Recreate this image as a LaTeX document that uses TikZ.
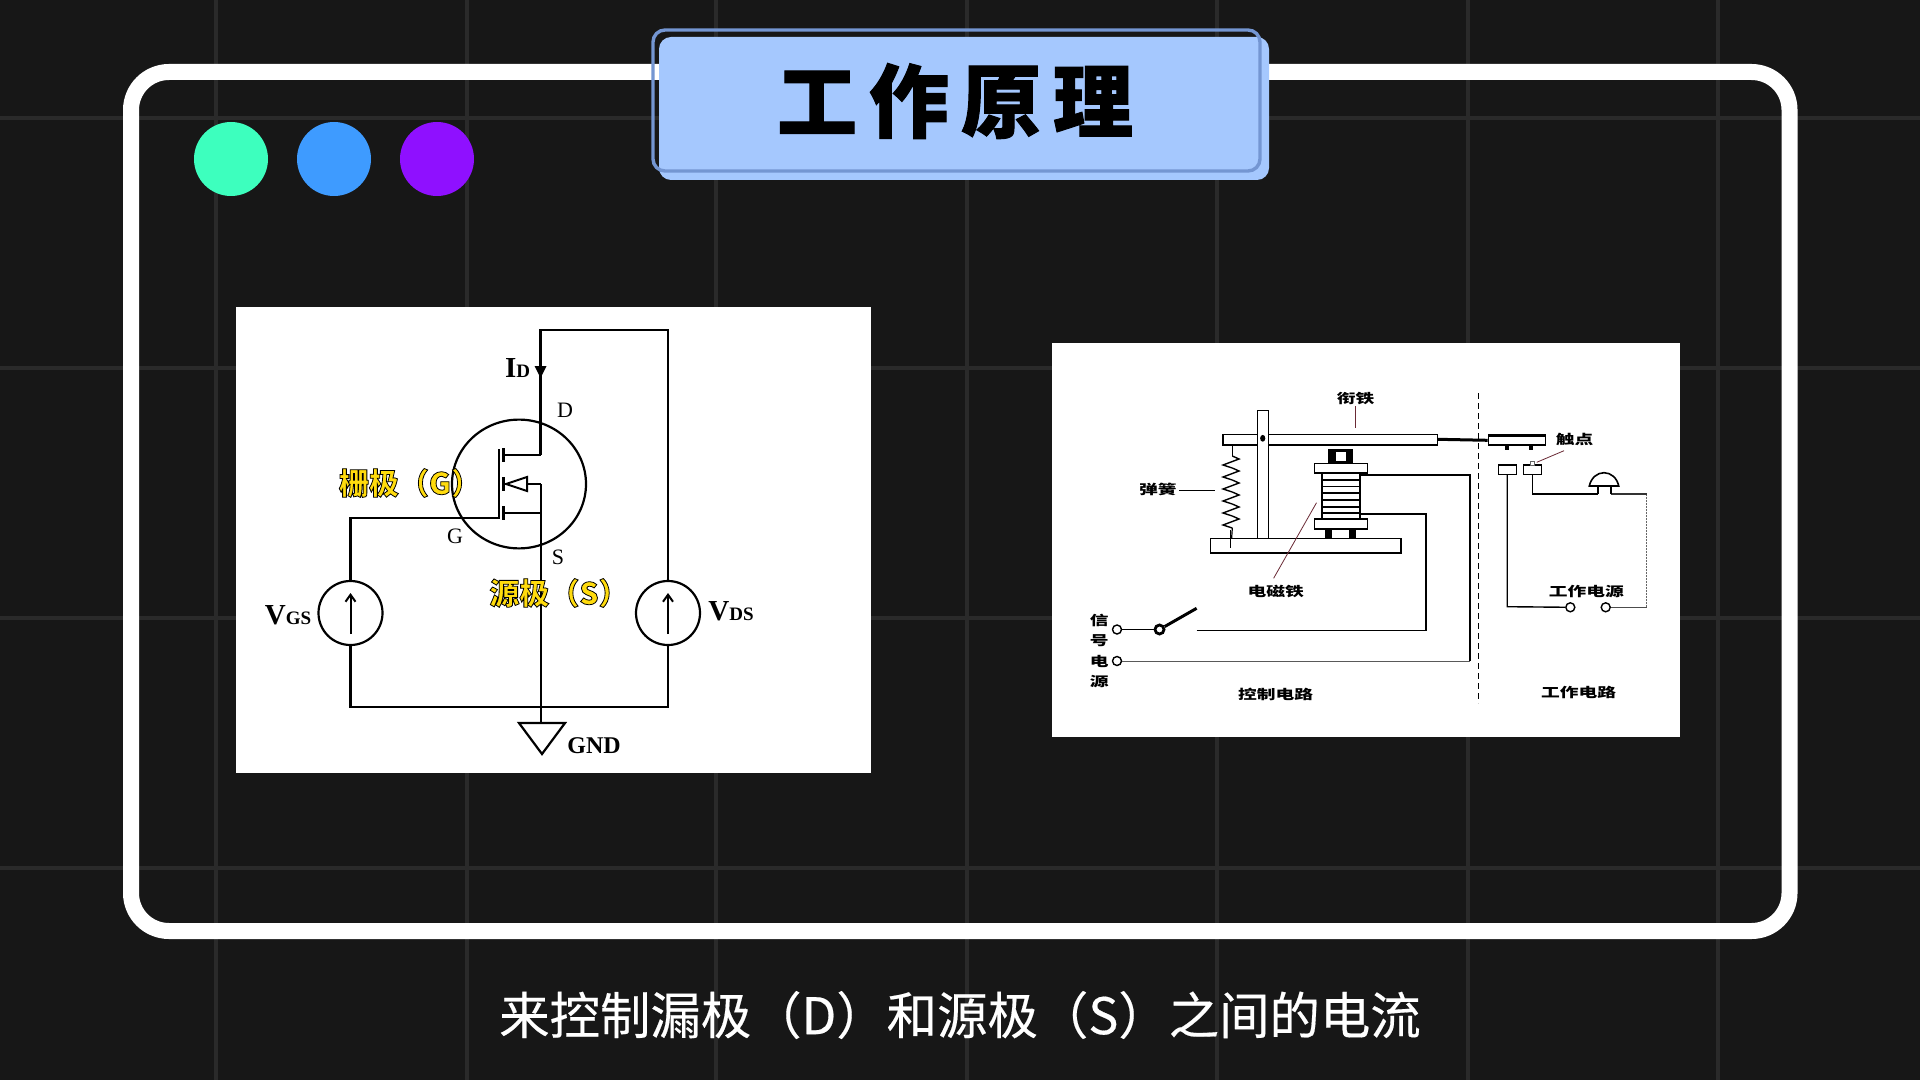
\documentclass[tikz,border=0pt]{standalone}
\usepackage{fontspec}
\usepackage{graphicx}
\usetikzlibrary{arrows.meta}
\setmainfont{Liberation Serif}
\newfontfamily\cjk[BoldFeatures={FakeBold=1.2}]{Noto Sans CJK SC}
\newfontfamily\cjkplain{Noto Sans CJK SC}
\newfontfamily\cjkmed[FakeBold=0.35]{Noto Sans CJK SC}
\newfontfamily\cjkblack{Noto Sans CJK SC Black}
\newcommand{\fsz}[1]{\fontsize{#1}{#1}\selectfont}
\newcommand{\glowtxt}[1]{\special{pdf:code 2 Tr 0 0 0 RG 0.4 w 1 .86 .05 rg}#1\special{pdf:code 0 Tr}}
\newcommand{\wide}[1]{\scalebox{1.42}[1]{#1}}
\definecolor{bgdark}{HTML}{171717}
\definecolor{gridgray}{HTML}{2A2A2A}
\definecolor{titlefill}{HTML}{A5C8FE}
\definecolor{titleline}{HTML}{7496D2}
\definecolor{leadred}{HTML}{6A2A35}
\tikzset{
  wire/.style={draw=black,line width=1.3pt},
  thinwire/.style={draw=black,line width=.7pt},
  relaybox/.style={draw=black,fill=white,line width=.6pt},
  leadline/.style={draw=leadred,line width=.4pt},
  source/.style={circle,draw=black,fill=white,line width=1.1pt,minimum size=32pt,inner sep=0pt},
  term/.style={circle,draw=black,fill=white,line width=.7pt,minimum size=4.5pt,inner sep=0pt},
  boldlabel/.style={font=\fsz{14.5}\bfseries,inner sep=0pt},
  pinlabel/.style={font=\fsz{11},inner sep=0pt},
  yellowlabel/.style={font=\fsz{15}\cjkblack,inner sep=0pt},
  relaylabel/.style={font=\fsz{6.6}\cjkplain\bfseries,inner sep=0pt}
}
\begin{document}
\begin{tikzpicture}[x=.5pt,y=-.5pt]
  \useasboundingbox (0,0) rectangle (1920,1080);
  \fill[bgdark] (0,0) rectangle (1920,1080);
  \foreach \x in {216,467,716,967,1217,1468,1718}
    \draw[gridgray,line width=2pt] (\x,0)--(\x,1080);
  \foreach \y in {118,368,618,868}
    \draw[gridgray,line width=2pt] (0,\y)--(1920,\y);

  % frame and title
  \draw[white,line width=8pt,rounded corners=19pt] (131,72) rectangle (1789.5,931);
  \fill[titlefill,rounded corners=6pt] (659,37) rectangle (1269,180);
  \draw[titleline,line width=1.7pt,rounded corners=6pt] (653,30) rectangle (1260,171);
  \node[font=\fsz{40}\cjk\bfseries,inner sep=0pt] (title) at (955,101)
    {工\hspace{6pt}作\hspace{6pt}原\hspace{6pt}理};

  \fill[fill={rgb,255:red,61;green,255;blue,190}] (231,159) circle (18.5pt);
  \fill[fill={rgb,255:red,62;green,155;blue,255}] (334,159) circle (18.5pt);
  \fill[fill={rgb,255:red,143;green,16;blue,255}] (437,159) circle (18.5pt);

  % mosfet panel
  \fill[white] (236,307) rectangle (870.5,773);
  \node[source] (vgs) at (350.5,613) {};
  \node[source] (vds) at (668,613) {};
  \coordinate (topleft) at (540.5,330);
  \coordinate (drain) at (540.5,455);
  \coordinate (gatein) at (499,518);
  \coordinate (bodyin) at (541,484);
  \coordinate (gndtop) at (541,723);
  \draw[line width=1.1pt] (519,484) ellipse (33.5pt and 32.2pt);
  \draw[wire] (drain)--(topleft)--(668,330)--(vds.north);
  \draw[wire] (vds.south)--(668,707)--(350.5,707)--(vgs.south);
  \draw[wire] (vgs.north)--(350.5,518)--(gatein);
  \draw[wire] (bodyin)--(gndtop);
  \draw[wire] (503,455)--(drain);
  \draw[wire] (503,513)--(541,513);
  \draw[wire] (527,484)--(bodyin);
  \draw[line width=.9pt] (499,449)--(499,519);
  \foreach \y in {448,477,506}
    \draw[line width=1.8pt] (503.5,\y)--(503.5,\y+14);
  \draw[line width=1pt,fill=white] (506,484)--(527,477)--(527,491)--cycle;
  \fill (534.5,366)--(546.5,366)--(540.5,378)--cycle;
  \draw[line width=1.1pt,fill=white] (519,723)--(565,723)--(542,754)--cycle;
  \foreach \n in {vgs,vds}
    \draw[line width=1pt,-{Straight Barb[length=3.5pt,width=5pt]}] (\n.center)++(0,21)--++(0,-41);

  \node[boldlabel] (idlabel) at (517.5,368) {I{\fsz{9.5}D}};
  \node[boldlabel] (vgslabel) at (288,615) {V{\fsz{9.5}GS}};
  \node[boldlabel] (vdslabel) at (731,611) {V{\fsz{9.5}DS}};
  \node[boldlabel,font=\fsz{12}\bfseries] (gndlabel) at (594,746) {GND};
  \node[pinlabel] (dlabel) at (565,410) {D};
  \node[pinlabel] (glabel) at (455,536) {G};
  \node[pinlabel] (slabel) at (558,557) {S};
  \node[yellowlabel] (gatelabel) at (410,483) {\glowtxt{栅极（G）}};
  \node[yellowlabel] (sourcelabel) at (559,593) {\glowtxt{源极（S）}};

  % relay panel
  \fill[white] (1052,343) rectangle (1680,737);
  \draw[relaybox] (1223,434.3) rectangle (1437.7,445);
  \draw[relaybox] (1257.6,410.7) rectangle (1268.5,538.3);
  \fill (1262.7,438.3) ellipse (1.3pt and 1.7pt);
  \node[draw=black,fill=white,line width=.6pt,minimum width=28.6pt,minimum height=4.6pt,inner sep=0pt] (movebar) at (1516.9,440.3) {};
  \draw[black,line width=1.3pt] (1488.3,435.7)--(1545.5,435.7);
  \draw[line width=1.5pt] (1437.7,439.3)--(movebar.west);
  \foreach \x in {1507.2,1530.8}
    \draw[line width=2pt] (\x,445)--(\x,450);

  % spring
  \draw[thinwire] (1232.3,445)--(1232.3,456);
  \foreach \y in {456,468,480,492,504,516}
    \draw[line width=.7pt] (1232.3,\y)--(1239,\y+3)--(1223,\y+9)--(1232.3,\y+12);
  \draw[line width=.6pt] (1232.3,528)--(1231,548);
  \draw[relaybox,line width=.8pt] (1210.5,538.3) rectangle (1401.1,552.7);
  \draw[line width=.6pt] (1230.7,530)--(1230.7,548);

  % coil
  \fill (1328.3,449.3) rectangle (1352.7,463.3);
  \fill[white] (1335.9,451.7) rectangle (1346,461);
  \foreach \x in {1325,1348.9}
    \fill (\x,528.7) rectangle (\x+6.8,538.3);
  \draw[relaybox,line width=.8pt] (1322,472.7) rectangle (1359.9,518.7);
  \foreach \y in {480,486.5,493.3,500,506.7,513.3}
    \draw[line width=.9pt] (1322,\y)--(1359.9,\y);
  \draw[relaybox,line width=.8pt] (1314.4,463.3) rectangle (1367.5,472.7);
  \draw[relaybox,line width=.8pt] (1314.4,518.7) rectangle (1367.5,528.7);

  % control circuit
  \node[term] (sigtop) at (1117,629.5) {};
  \node[term] (sigbot) at (1117,661) {};
  \node[circle,draw=black,fill=white,line width=1.4pt,minimum size=4.5pt,inner sep=0pt] (swpivot) at (1159.5,629.5) {};
  \coordinate (swtip) at (1196.6,608.3);
  \coordinate (swend) at (1196.6,630.7);
  \draw[line width=.6pt] (sigtop)--(swpivot);
  \draw[line width=1.5pt] (swpivot)--(swtip);
  \draw[thinwire] (swend)--(1426,630.7)--(1426,514)--(1359.9,514);
  \draw[line width=1pt] (1359.9,475)--(1469.7,475)--(1469.7,661);
  \draw[draw=black!65,line width=.5pt] (1469.7,661)--(sigbot);

  % work circuit
  \draw[line width=.5pt,dash pattern=on 3pt off 2pt] (1478.2,393.3)--(1478.2,703.3);
  \node[draw=black,fill=white,line width=.7pt,minimum width=9pt,minimum height=4.6pt,inner sep=0pt] (contactl) at (1507.2,469.6) {};
  \node[draw=black,fill=white,line width=.7pt,minimum width=9pt,minimum height=4.6pt,inner sep=0pt] (contactr) at (1532.4,469.6) {};
  \draw[draw=black!60,fill=white,line width=.3pt] (1530.3,461) rectangle (1534.6,465);
  \node[term] (workl) at (1570.3,607.3) {};
  \node[term] (workr) at (1605.7,607.3) {};
  \draw[line width=.7pt] (contactl.south)--(1507.2,606.7)--(workl);
  \draw[line width=.8pt] (contactr.south)--(1532.4,494)--(1598.1,494);
  \draw[draw=black!70,line width=.5pt] (workr)--(1646.5,607.3);
  \draw[draw=black!60,line width=.5pt,dash pattern=on 1pt off .5pt] (1646.5,607.3)--(1646.5,494);
  \draw[draw=black!80,line width=.6pt] (1646.5,494)--(1611.2,494);
  \draw[line width=.8pt] (1598.1,494)--(1598.1,486);
  \draw[line width=.8pt] (1611.2,494)--(1611.2,486);
  \draw[line width=.8pt,fill=white] (1589.3,486) .. controls (1591,478) and (1597,472.7) .. (1604,472.7)
    .. controls (1611,472.7) and (1617,478) .. (1618.7,486) -- cycle;

  % leaders and labels
  \draw[leadline] (1355.7,406)--(1355.7,428.3);
  \draw[leadline] (1316.5,502.7)--(1273.6,578.3);
  \draw[leadline] (1564,450.7)--(1536.7,462.3);
  \draw[line width=.4pt] (1179,490.3)--(1214.7,490.3);
  \node[relaylabel] (armlabel) at (1355.7,399) {\wide{衔铁}};
  \node[relaylabel] (touchlabel) at (1574.5,439.3) {\wide{触点}};
  \node[relaylabel] (springlabel) at (1157.9,489.3) {\wide{弹簧}};
  \node[relaylabel] (magnetlabel) at (1275.7,591.7) {\wide{电磁铁}};
  \node[relaylabel] (powerlabel) at (1586.3,591.7) {\wide{工作电源}};
  \node[relaylabel] (ctrllabel) at (1275.7,694) {\wide{控制电路}};
  \node[relaylabel] (worklabel) at (1578.7,692.7) {\wide{工作电路}};
  \node[relaylabel] (sigc) at (1099.3,620) {\wide{信}};
  \node[relaylabel] (sigd) at (1099.3,640.7) {\wide{号}};
  \node[relaylabel] (sige) at (1099.3,661) {\wide{电}};
  \node[relaylabel] (sigf) at (1099.3,682) {\wide{源}};

  \node[font=\fsz{25.2}\cjkmed,text=white,inner sep=0pt] (caption) at (960,1015)
    {来控制漏极（D）和源极（S）之间的电流};
\end{tikzpicture}
\end{document}
